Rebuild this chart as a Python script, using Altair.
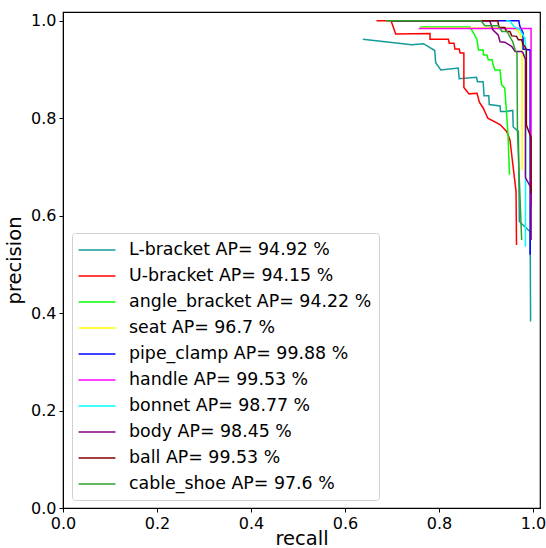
import altair as alt
import pandas as pd

classes = ["L-bracket", "U-bracket", "angle_bracket", "seat", "pipe_clamp",
           "handle", "bonnet", "body", "ball", "cable_shoe"]
ap_values = ["94.92", "94.15", "94.22", "96.7", "99.88", "99.53", "98.77", "98.45", "99.53", "97.6"]
colors = ["#159a9a", "#ff0000", "#00ff00", "#ffff00", "#0000ff",
          "#ff00ff", "#00ffff", "#800080", "#800000", "#2ca02c"]

recall_L = [0.638, 0.742, 0.767, 0.791, 0.793, 0.804, 0.841, 0.843, 0.880, 0.882, 0.894, 0.896,
            0.906, 0.907, 0.930, 0.931, 0.943, 0.957, 0.958, 0.969, 0.971, 0.994, 0.995]
prec_L = [0.962, 0.951, 0.953, 0.939, 0.914, 0.899, 0.903, 0.881, 0.884, 0.875, 0.875, 0.846,
          0.846, 0.828, 0.825, 0.814, 0.814, 0.816, 0.782, 0.773, 0.588, 0.567, 0.383]

recall_U = [0.667, 0.698, 0.708, 0.781, 0.781, 0.820, 0.822, 0.832, 0.834, 0.843, 0.845, 0.853,
            0.853, 0.864, 0.881, 0.886, 0.894, 0.904, 0.930, 0.944, 0.951, 0.964, 0.965]
prec_U = [1.0, 1.0, 0.973, 0.974, 0.962, 0.962, 0.954, 0.954, 0.942, 0.942, 0.934, 0.934,
          0.863, 0.850, 0.851, 0.833, 0.821, 0.800, 0.787, 0.773, 0.756, 0.650, 0.540]

recall_angle = [0.760, 0.866, 0.874, 0.881, 0.884, 0.894, 0.895, 0.902, 0.905, 0.913, 0.915,
                0.919, 0.930, 0.933, 0.940, 0.947, 0.950]
prec_angle = [0.987, 0.987, 0.974, 0.961, 0.940, 0.940, 0.930, 0.930, 0.920, 0.920, 0.910,
              0.899, 0.899, 0.869, 0.862, 0.766, 0.684]

recall_seat = [0.760, 0.955, 0.968, 0.977, 0.977]
prec_seat = [0.985, 0.985, 0.980, 0.965, 0.694]

recall_pipe = [0.700, 0.970, 0.972, 0.979, 0.979, 0.994, 0.994]
prec_pipe = [1.0, 1.0, 0.989, 0.975, 0.942, 0.940, 0.520]

recall_handle = [0.757, 0.996, 0.996]
prec_handle = [0.984, 0.984, 0.620]

recall_bonnet = [0.943, 0.951, 0.960, 0.972, 0.983, 0.985, 0.984]
prec_bonnet = [1.0, 0.999, 0.988, 0.982, 0.964, 0.940, 0.536]

recall_body = [0.700, 0.908, 0.915, 0.926, 0.930, 0.940, 0.955, 0.962, 0.976, 0.979, 0.984,
               0.984, 0.996, 0.996]
prec_body = [1.0, 1.0, 0.981, 0.971, 0.957, 0.956, 0.947, 0.937, 0.937, 0.934, 0.920,
             0.678, 0.657, 0.550]

recall_ball = [0.700, 0.925, 0.928, 0.940, 0.944, 0.951, 0.955, 0.965, 0.969, 0.976, 0.979,
               0.983, 0.986, 0.986, 0.996, 0.996]
prec_ball = [1.0, 1.0, 0.986, 0.986, 0.978, 0.978, 0.969, 0.968, 0.961, 0.961, 0.951,
             0.947, 0.940, 0.786, 0.760, 0.645]

recall_cable = [0.687, 0.889, 0.898, 0.926, 0.934, 0.945, 0.951, 0.957, 0.962, 0.966, 0.967,
                0.970, 0.976]
prec_cable = [1.0, 1.0, 0.990, 0.990, 0.978, 0.978, 0.967, 0.957, 0.940, 0.934, 0.776,
              0.700, 0.550]

curves = [
    (recall_L, prec_L), (recall_U, prec_U), (recall_angle, prec_angle),
    (recall_seat, prec_seat), (recall_pipe, prec_pipe), (recall_handle, prec_handle),
    (recall_bonnet, prec_bonnet), (recall_body, prec_body), (recall_ball, prec_ball),
    (recall_cable, prec_cable),
]

labels = [f"{c} AP= {a} %" for c, a in zip(classes, ap_values)]

color_scale = alt.Scale(domain=labels, range=colors)
ticks = [0.0, 0.2, 0.4, 0.6, 0.8, 1.0]

layers = []
for lab, (rx, py) in zip(labels, curves):
    df = pd.DataFrame({"recall": rx, "precision": py, "series": lab,
                       "idx": list(range(len(rx)))})
    layer = alt.Chart(df).mark_line(strokeWidth=1.5, interpolate="linear", clip=True).encode(
        x=alt.X("recall:Q", title="recall",
                scale=alt.Scale(domain=[0, 1.015], nice=False, zero=False),
                axis=alt.Axis(values=ticks, format=".1f")),
        y=alt.Y("precision:Q", title="precision",
                scale=alt.Scale(domain=[0, 1.018], nice=False, zero=False),
                axis=alt.Axis(values=ticks, format=".1f")),
        color=alt.Color("series:N", scale=color_scale, sort=labels,
                        legend=alt.Legend(title=None, orient="none",
                                          legendX=9, legendY=221,
                                          symbolType="M-2,0H2", symbolSize=340,
                                          symbolStrokeWidth=1.5,
                                          symbolOffset=8,
                                          labelFontSize=17.4, labelFont="DejaVu Sans",
                                          labelColor="black", labelLimit=400,
                                          rowPadding=7, padding=7,
                                          fillColor="white", strokeColor="#d0d0d0",
                                          cornerRadius=3, labelOffset=22)),
        order="idx:Q",
    )
    layers.append(layer)

chart = alt.layer(*layers).properties(
    width=477, height=496,
    autosize=alt.AutoSizeParams(type="none"),
    padding={"left": 63, "top": 12, "right": 6, "bottom": 40},
    background="white",
).configure_view(
    stroke="black", strokeWidth=1.2
).configure_axis(
    grid=False, domainColor="black", tickColor="black", tickSize=4,
    labelFontSize=16, labelFont="DejaVu Sans", labelColor="black",
    titleFontSize=19.5, titleFont="DejaVu Sans", titleColor="black",
    titleFontWeight="normal", labelPadding=3,
).configure_axisX(titlePadding=-2, labelFlush=False).configure_axisY(titlePadding=6, labelFlush=False)

chart.save("out.html", embed_options={"renderer": "svg", "actions": False})
